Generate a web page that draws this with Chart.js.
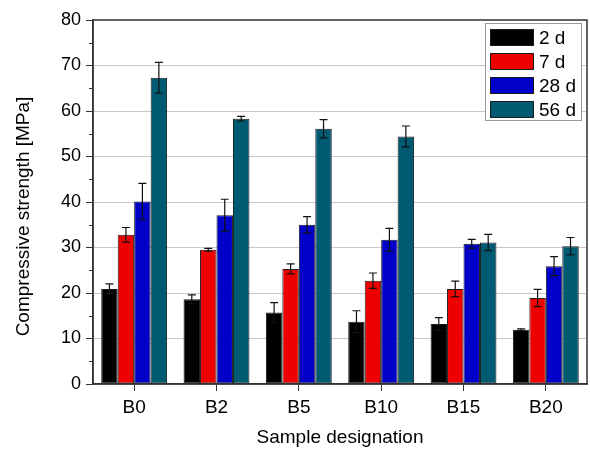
<!DOCTYPE html>
<html>
<head>
<meta charset="utf-8">
<script src="https://cdn.jsdelivr.net/npm/chart.js@4.4.1/dist/chart.umd.min.js"></script>
<style>
  html, body { margin: 0; padding: 0; background: #fff; }
  #wrap { width: 590px; height: 449px; position: relative; }
</style>
</head>
<body>
<div id="wrap"><canvas id="c" width="590" height="449"></canvas></div>
<script>
const categories = ['B0', 'B2', 'B5', 'B10', 'B15', 'B20'];
const seriesLabels = ['2 d', '7 d', '28 d', '56 d'];
const values2d  = [20.9, 18.6, 15.7, 13.7, 13.2, 11.9];
const values7d  = [32.8, 29.5, 25.3, 22.7, 20.9, 18.9];
const values28d = [40.1, 37.1, 35.0, 31.7, 30.8, 25.9];
const values56d = [67.3, 58.3, 56.1, 54.4, 31.1, 30.3];
const errors2d  = [1.1, 1.0, 2.2, 2.4, 1.4, 0.2];
const errors7d  = [1.6, 0.3, 1.1, 1.7, 1.7, 1.9];
const errors28d = [4.0, 3.5, 1.8, 2.5, 1.0, 2.1];
const errors56d = [3.4, 0.5, 2.0, 2.3, 1.8, 1.9];
const yTicks = [0, 10, 20, 30, 40, 50, 60, 70, 80];
const yMinorTicks = [5, 15, 25, 35, 45, 55, 65, 75];
const yTitle = 'Compressive strength [MPa]';
const xTitle = 'Sample designation';

const colors = ['#000000', '#ee0000', '#0000c8', '#005b72'];
const FONT = "'Liberation Sans', Arial, sans-serif";

const allValues = [values2d, values7d, values28d, values56d];
const allErrors = [errors2d, errors7d, errors28d, errors56d];

const datasets = seriesLabels.map((lab, i) => ({
  label: lab,
  data: allValues[i],
  errors: allErrors[i],
  backgroundColor: colors[i],
  borderColor: '#1a1a1a',
  borderWidth: 1,
  borderSkipped: false,
  categoryPercentage: 0.8,
  barPercentage: 1.0
}));

const errorBarPlugin = {
  id: 'errorBars',
  afterDatasetsDraw(chart) {
    const ctx = chart.ctx;
    const y = chart.scales.y;
    ctx.save();
    ctx.strokeStyle = '#111';
    ctx.lineWidth = 1.2;
    chart.data.datasets.forEach((ds, di) => {
      const meta = chart.getDatasetMeta(di);
      meta.data.forEach((el, i) => {
        const v = ds.data[i], e = ds.errors[i];
        const yt = y.getPixelForValue(v + e);
        const yb = y.getPixelForValue(v - e);
        const x = el.x;
        const cap = 4;
        ctx.beginPath();
        ctx.moveTo(x, yt); ctx.lineTo(x, yb);
        ctx.moveTo(x - cap, yt); ctx.lineTo(x + cap, yt);
        ctx.moveTo(x - cap, yb); ctx.lineTo(x + cap, yb);
        ctx.stroke();
      });
    });
    ctx.restore();
  }
};

const framePlugin = {
  id: 'frame',
  beforeDatasetsDraw(chart) {
    const ctx = chart.ctx;
    const y = chart.scales.y;
    const a = chart.chartArea;
    ctx.save();
    ctx.strokeStyle = '#333';
    ctx.lineWidth = 1;
    yMinorTicks.forEach(v => {
      const py = Math.round(y.getPixelForValue(v)) + 0.5;
      ctx.beginPath();
      ctx.moveTo(a.left - 4, py); ctx.lineTo(a.left, py);
      ctx.stroke();
    });
    ctx.restore();
  },
  afterDraw(chart) {
    const ctx = chart.ctx;
    const a = chart.chartArea;
    ctx.save();
    ctx.strokeStyle = '#333';
    ctx.lineWidth = 1.5;
    ctx.strokeRect(a.left, a.top, a.right - a.left, a.bottom - a.top);
    // y axis title
    ctx.save();
    ctx.translate(24, 216.5);
    ctx.rotate(-Math.PI / 2);
    ctx.fillStyle = '#000';
    ctx.font = '19px ' + FONT;
    ctx.textAlign = 'center';
    ctx.textBaseline = 'middle';
    ctx.fillText(yTitle, 0, 0);
    ctx.restore();
    // legend
    const lx = 485.5, ly = 23.5, lw = 96, lh = 97;
    ctx.fillStyle = '#fff';
    ctx.fillRect(lx, ly, lw, lh);
    ctx.strokeStyle = '#999';
    ctx.lineWidth = 1;
    ctx.strokeRect(lx, ly, lw, lh);
    ctx.font = '19px ' + FONT;
    ctx.textBaseline = 'middle';
    chart.data.datasets.forEach((ds, i) => {
      const ry = 29.5 + i * 24;
      ctx.fillStyle = ds.backgroundColor;
      ctx.fillRect(490.5, ry, 43, 16);
      ctx.strokeStyle = '#1a1a1a';
      ctx.strokeRect(490.5, ry, 43, 16);
      ctx.fillStyle = '#000';
      ctx.fillText(ds.label, 539, ry + 9);
    });
    ctx.restore();
  }
};

new Chart(document.getElementById('c'), {
  type: 'bar',
  data: { labels: categories, datasets },
  plugins: [errorBarPlugin, framePlugin],
  options: {
    responsive: false,
    animation: false,
    devicePixelRatio: 1,
    layout: { padding: { left: 0, top: 20, right: 3, bottom: 0 } },
    plugins: { legend: { display: false }, tooltip: { enabled: false } },
    scales: {
      x: {
        offset: true,
        grid: { display: true, offset: false, drawOnChartArea: false, drawTicks: true, tickLength: 7, color: '#333', tickColor: '#333' },
        border: { display: true, color: '#333', width: 1.5 },
        ticks: { color: '#000', font: { family: FONT, size: 19 }, padding: 5, maxRotation: 0 },
        title: { display: true, text: xTitle, color: '#000', font: { family: FONT, size: 19 }, padding: { top: 0, bottom: 0 } },
        afterFit(scale) { scale.height = 65; }
      },
      y: {
        min: 0, max: 80,
        afterBuildTicks(scale) { scale.ticks = yTicks.map(v => ({ value: v })); },
        grid: {
          color: ctx => (ctx.tick && (ctx.tick.value === 0 || ctx.tick.value === 80)) ? 'rgba(0,0,0,0)' : '#c8c8c8',
          tickColor: '#333',
          tickLength: 7,
          lineWidth: 1
        },
        border: { display: true, color: '#333', width: 1.5 },
        ticks: { color: '#000', font: { family: FONT, size: 18 }, padding: 5 },
        title: { display: false },
        afterFit(scale) { scale.width = 93; }
      }
    }
  }
});
</script>
</body>
</html>
